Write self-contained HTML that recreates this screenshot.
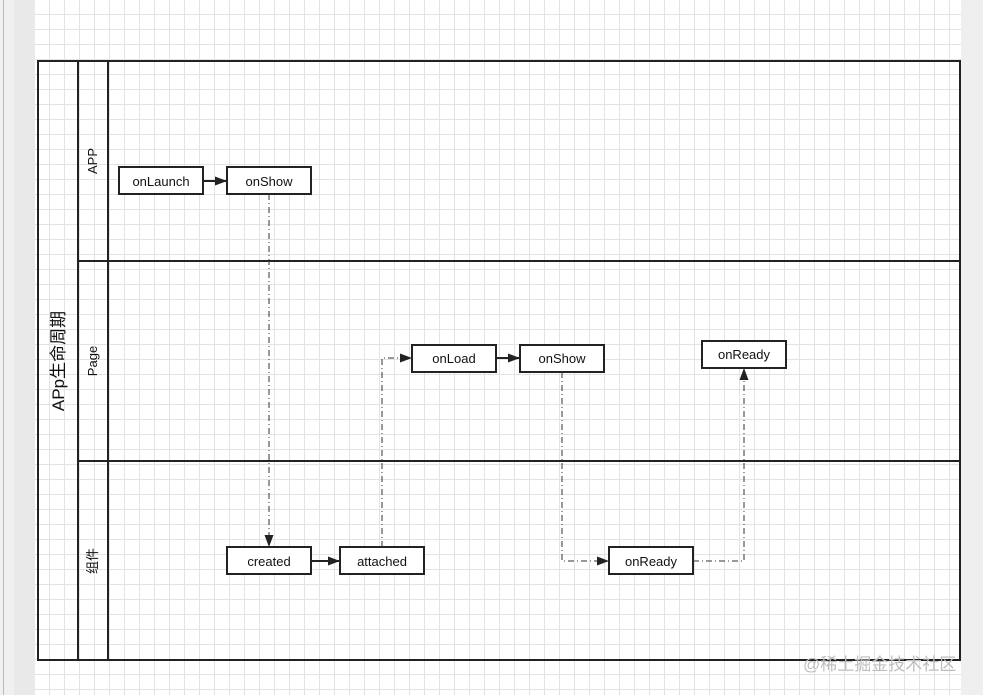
<!DOCTYPE html>
<html><head><meta charset="utf-8"><style>
body{margin:0;width:983px;height:695px;overflow:hidden;background:#fff;font-family:"Liberation Sans","Noto Sans CJK SC",sans-serif}
</style></head><body>
<svg width="983" height="695" xmlns="http://www.w3.org/2000/svg" style="position:absolute;left:0;top:0">
<defs>
<pattern id="g" x="35" y="0" width="15" height="15" patternUnits="userSpaceOnUse">
<path d="M14.5 0V15M0 14.5H15" fill="none" stroke="#e3e3e3" stroke-width="1"/>
</pattern>
<marker id="a" markerWidth="12" markerHeight="9" refX="11" refY="4.5" orient="auto" markerUnits="userSpaceOnUse">
<path d="M0 0L12 4.5L0 9Z" fill="#222"/>
</marker>
</defs>
<rect x="0" y="0" width="983" height="695" fill="url(#g)"/>
<rect x="0" y="0" width="14" height="695" fill="#f0f0f0"/>
<rect x="3" y="0" width="1" height="695" fill="#bbb"/>
<rect x="14" y="0" width="21" height="695" fill="#e9e9e9"/>
<rect x="961" y="0" width="22" height="695" fill="#efefef"/>
<g fill="none" stroke="#222" stroke-width="2">
<rect x="38" y="61" width="922" height="599"/>
<line x1="78" y1="61" x2="78" y2="660"/>
<line x1="108" y1="61" x2="108" y2="660"/>
<line x1="78" y1="261" x2="960" y2="261"/>
<line x1="78" y1="461" x2="960" y2="461"/>
</g>
<g fill="#fff" stroke="#222" stroke-width="2">
<rect x="119" y="167" width="84" height="27"/>
<rect x="227" y="167" width="84" height="27"/>
<rect x="412" y="345" width="84" height="27"/>
<rect x="520" y="345" width="84" height="27"/>
<rect x="702" y="341" width="84" height="27"/>
<rect x="227" y="547" width="84" height="27"/>
<rect x="340" y="547" width="84" height="27"/>
<rect x="609" y="547" width="84" height="27"/>
</g>
<g stroke="#222" stroke-width="2" marker-end="url(#a)">
<line x1="203" y1="181" x2="226" y2="181"/>
<line x1="496" y1="358" x2="519" y2="358"/>
<line x1="311" y1="561" x2="339" y2="561"/>
</g>
<g fill="none" stroke="#333" stroke-width="1" stroke-dasharray="6,3,1,3" marker-end="url(#a)">
<path d="M269 194V546"/>
<path d="M382 547V358H411"/>
<path d="M562 372V561H608"/>
<path d="M693 561H744V369"/>
</g>
<g font-size="13" fill="#111" text-anchor="middle">
<text x="161" y="186">onLaunch</text>
<text x="269" y="186">onShow</text>
<text x="454" y="363">onLoad</text>
<text x="562" y="363">onShow</text>
<text x="744" y="359">onReady</text>
<text x="269" y="566">created</text>
<text x="382" y="566">attached</text>
<text x="651" y="566">onReady</text>
<text transform="translate(97,161) rotate(-90)">APP</text>
<text transform="translate(97,361) rotate(-90)">Page</text>
<text transform="translate(97,561) rotate(-90)">组件</text>
<text font-size="17" transform="translate(64,361) rotate(-90)">APp生命周期</text>
</g>
<text x="803" y="670" font-size="17" fill="#bdbdbd">@稀土掘金技术社区</text>
</svg>
</body></html>
